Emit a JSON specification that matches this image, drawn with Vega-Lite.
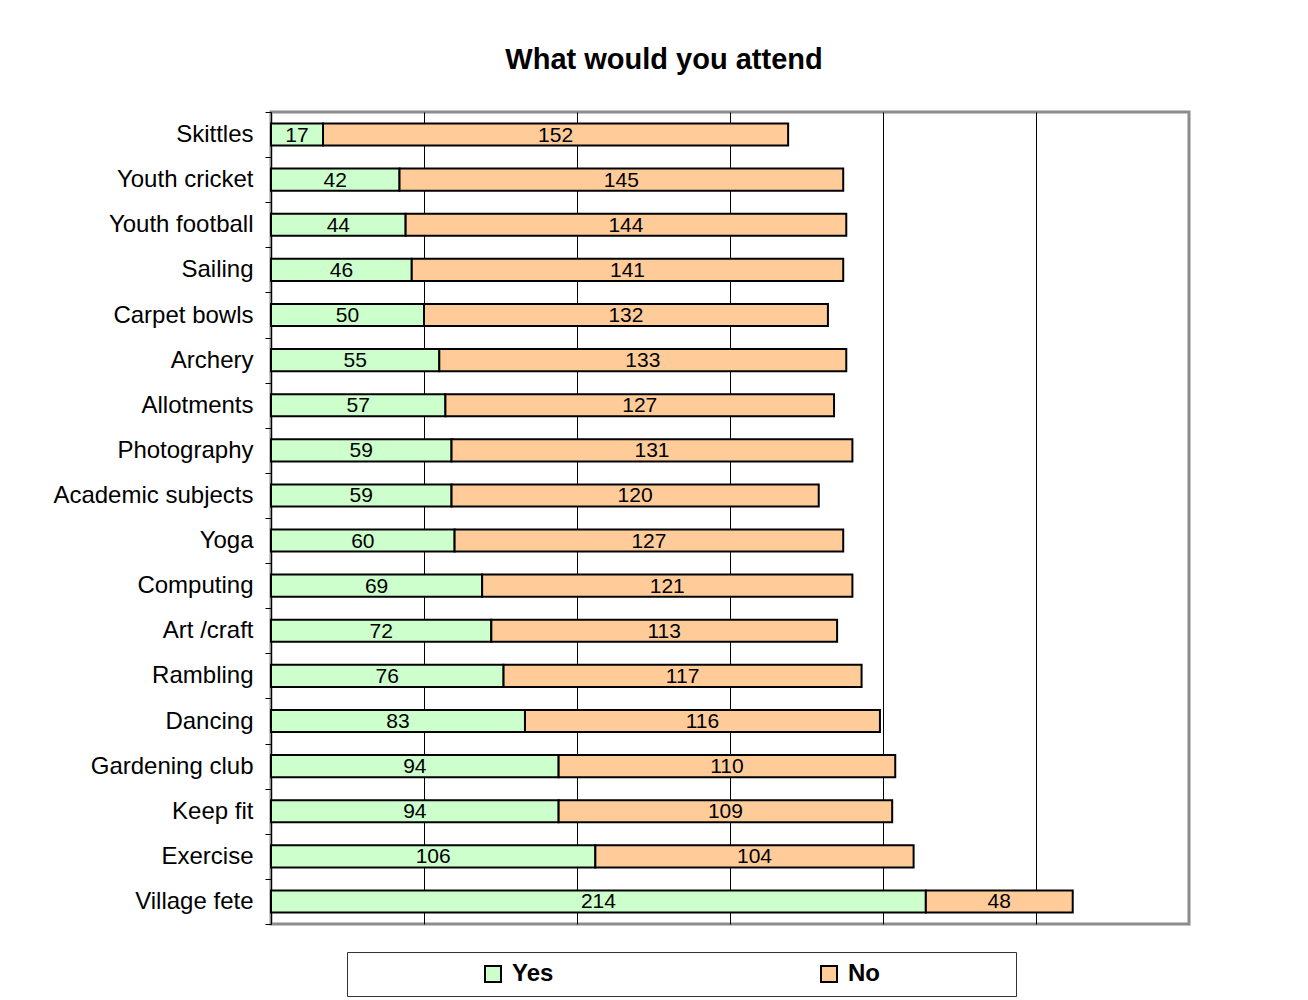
{
  "$schema": "https://vega.github.io/schema/vega-lite/v6.json",
  "autosize": {"type": "none"},
  "padding": {"left": 271, "top": 112, "right": 119, "bottom": 76},
  "width": 918,
  "height": 812,
  "background": "white",
  "title": {
    "text": "What would you attend",
    "font": "Liberation Sans",
    "fontSize": 29,
    "fontWeight": "bold",
    "color": "black",
    "anchor": "middle",
    "dx": -66,
    "offset": 25
  },
  "config": {
    "view": {"stroke": "#8c8c8c", "strokeWidth": 3},
    "font": "Liberation Sans"
  },
  "data": {
    "values": [
      {"activity": "Skittles", "answer": "Yes", "count": 17},
      {"activity": "Skittles", "answer": "No", "count": 152},
      {"activity": "Youth cricket", "answer": "Yes", "count": 42},
      {"activity": "Youth cricket", "answer": "No", "count": 145},
      {"activity": "Youth football", "answer": "Yes", "count": 44},
      {"activity": "Youth football", "answer": "No", "count": 144},
      {"activity": "Sailing", "answer": "Yes", "count": 46},
      {"activity": "Sailing", "answer": "No", "count": 141},
      {"activity": "Carpet bowls", "answer": "Yes", "count": 50},
      {"activity": "Carpet bowls", "answer": "No", "count": 132},
      {"activity": "Archery", "answer": "Yes", "count": 55},
      {"activity": "Archery", "answer": "No", "count": 133},
      {"activity": "Allotments", "answer": "Yes", "count": 57},
      {"activity": "Allotments", "answer": "No", "count": 127},
      {"activity": "Photography", "answer": "Yes", "count": 59},
      {"activity": "Photography", "answer": "No", "count": 131},
      {"activity": "Academic subjects", "answer": "Yes", "count": 59},
      {"activity": "Academic subjects", "answer": "No", "count": 120},
      {"activity": "Yoga", "answer": "Yes", "count": 60},
      {"activity": "Yoga", "answer": "No", "count": 127},
      {"activity": "Computing", "answer": "Yes", "count": 69},
      {"activity": "Computing", "answer": "No", "count": 121},
      {"activity": "Art /craft", "answer": "Yes", "count": 72},
      {"activity": "Art /craft", "answer": "No", "count": 113},
      {"activity": "Rambling", "answer": "Yes", "count": 76},
      {"activity": "Rambling", "answer": "No", "count": 117},
      {"activity": "Dancing", "answer": "Yes", "count": 83},
      {"activity": "Dancing", "answer": "No", "count": 116},
      {"activity": "Gardening club", "answer": "Yes", "count": 94},
      {"activity": "Gardening club", "answer": "No", "count": 110},
      {"activity": "Keep fit", "answer": "Yes", "count": 94},
      {"activity": "Keep fit", "answer": "No", "count": 109},
      {"activity": "Exercise", "answer": "Yes", "count": 106},
      {"activity": "Exercise", "answer": "No", "count": 104},
      {"activity": "Village fete", "answer": "Yes", "count": 214},
      {"activity": "Village fete", "answer": "No", "count": 48}
    ]
  },
  "transform": [
    {"calculate": "datum.answer === 'Yes' ? 0 : 1", "as": "ord"},
    {"stack": "count", "groupby": ["activity"], "sort": [{"field": "ord", "order": "ascending"}], "as": ["x0", "x1"]},
    {"calculate": "(datum.x0 + datum.x1) / 2", "as": "mid"}
  ],
  "encoding": {
    "y": {
      "field": "activity",
      "type": "nominal",
      "sort": null,
      "scale": {"paddingInner": 0, "paddingOuter": 0},
      "axis": {
        "title": null,
        "tickBand": "extent",
        "domainColor": "black",
        "domainWidth": 1,
        "tickColor": "black",
        "tickSize": 6,
        "labelFontSize": 24,
        "labelColor": "black",
        "labelFont": "Liberation Sans",
        "labelPadding": 12,
        "labelLimit": 400,
        "grid": false
      }
    }
  },
  "layer": [
    {
      "mark": {"type": "bar", "height": {"band": 0.49}, "stroke": "black", "strokeWidth": 2},
      "encoding": {
        "x": {
          "field": "x0",
          "type": "quantitative",
          "scale": {"domain": [0, 300], "nice": false, "zero": true},
          "axis": {
            "title": null,
            "values": [50, 100, 150, 200, 250],
            "labels": false,
            "ticks": false,
            "domain": false,
            "grid": true,
            "gridColor": "black",
            "gridWidth": 1,
            "gridOpacity": 1
          }
        },
        "x2": {"field": "x1"},
        "color": {
          "field": "answer",
          "type": "nominal",
          "scale": {"domain": ["Yes", "No"], "range": ["#CCFFCC", "#FFCC99"]},
          "legend": {
            "title": null,
            "orient": "none",
            "legendX": 76,
            "legendY": 840,
            "direction": "horizontal",
            "strokeColor": "#333333",
            "fillColor": "white",
            "padding": 10,
            "symbolType": "square",
            "symbolSize": 256,
            "symbolStrokeColor": "black",
            "symbolStrokeWidth": 2,
            "symbolOffset": 124,
            "labelOffset": 7,
            "labelFont": "Liberation Sans",
            "labelFontSize": 24,
            "labelFontWeight": "bold",
            "labelColor": "black",
            "labelLimit": 800,
            "columnPadding": 139,
            "labelExpr": "datum.label == 'No' ? 'No\u2800\u2800\u2800\u2800\u2800\u2800\u2800' : datum.label"
          }
        }
      }
    },
    {
      "mark": {"type": "text", "fontSize": 21, "color": "black", "font": "Liberation Sans", "baseline": "middle", "dy": 1},
      "encoding": {
        "x": {"field": "mid", "type": "quantitative"},
        "text": {"field": "count", "type": "quantitative"}
      }
    }
  ]
}
